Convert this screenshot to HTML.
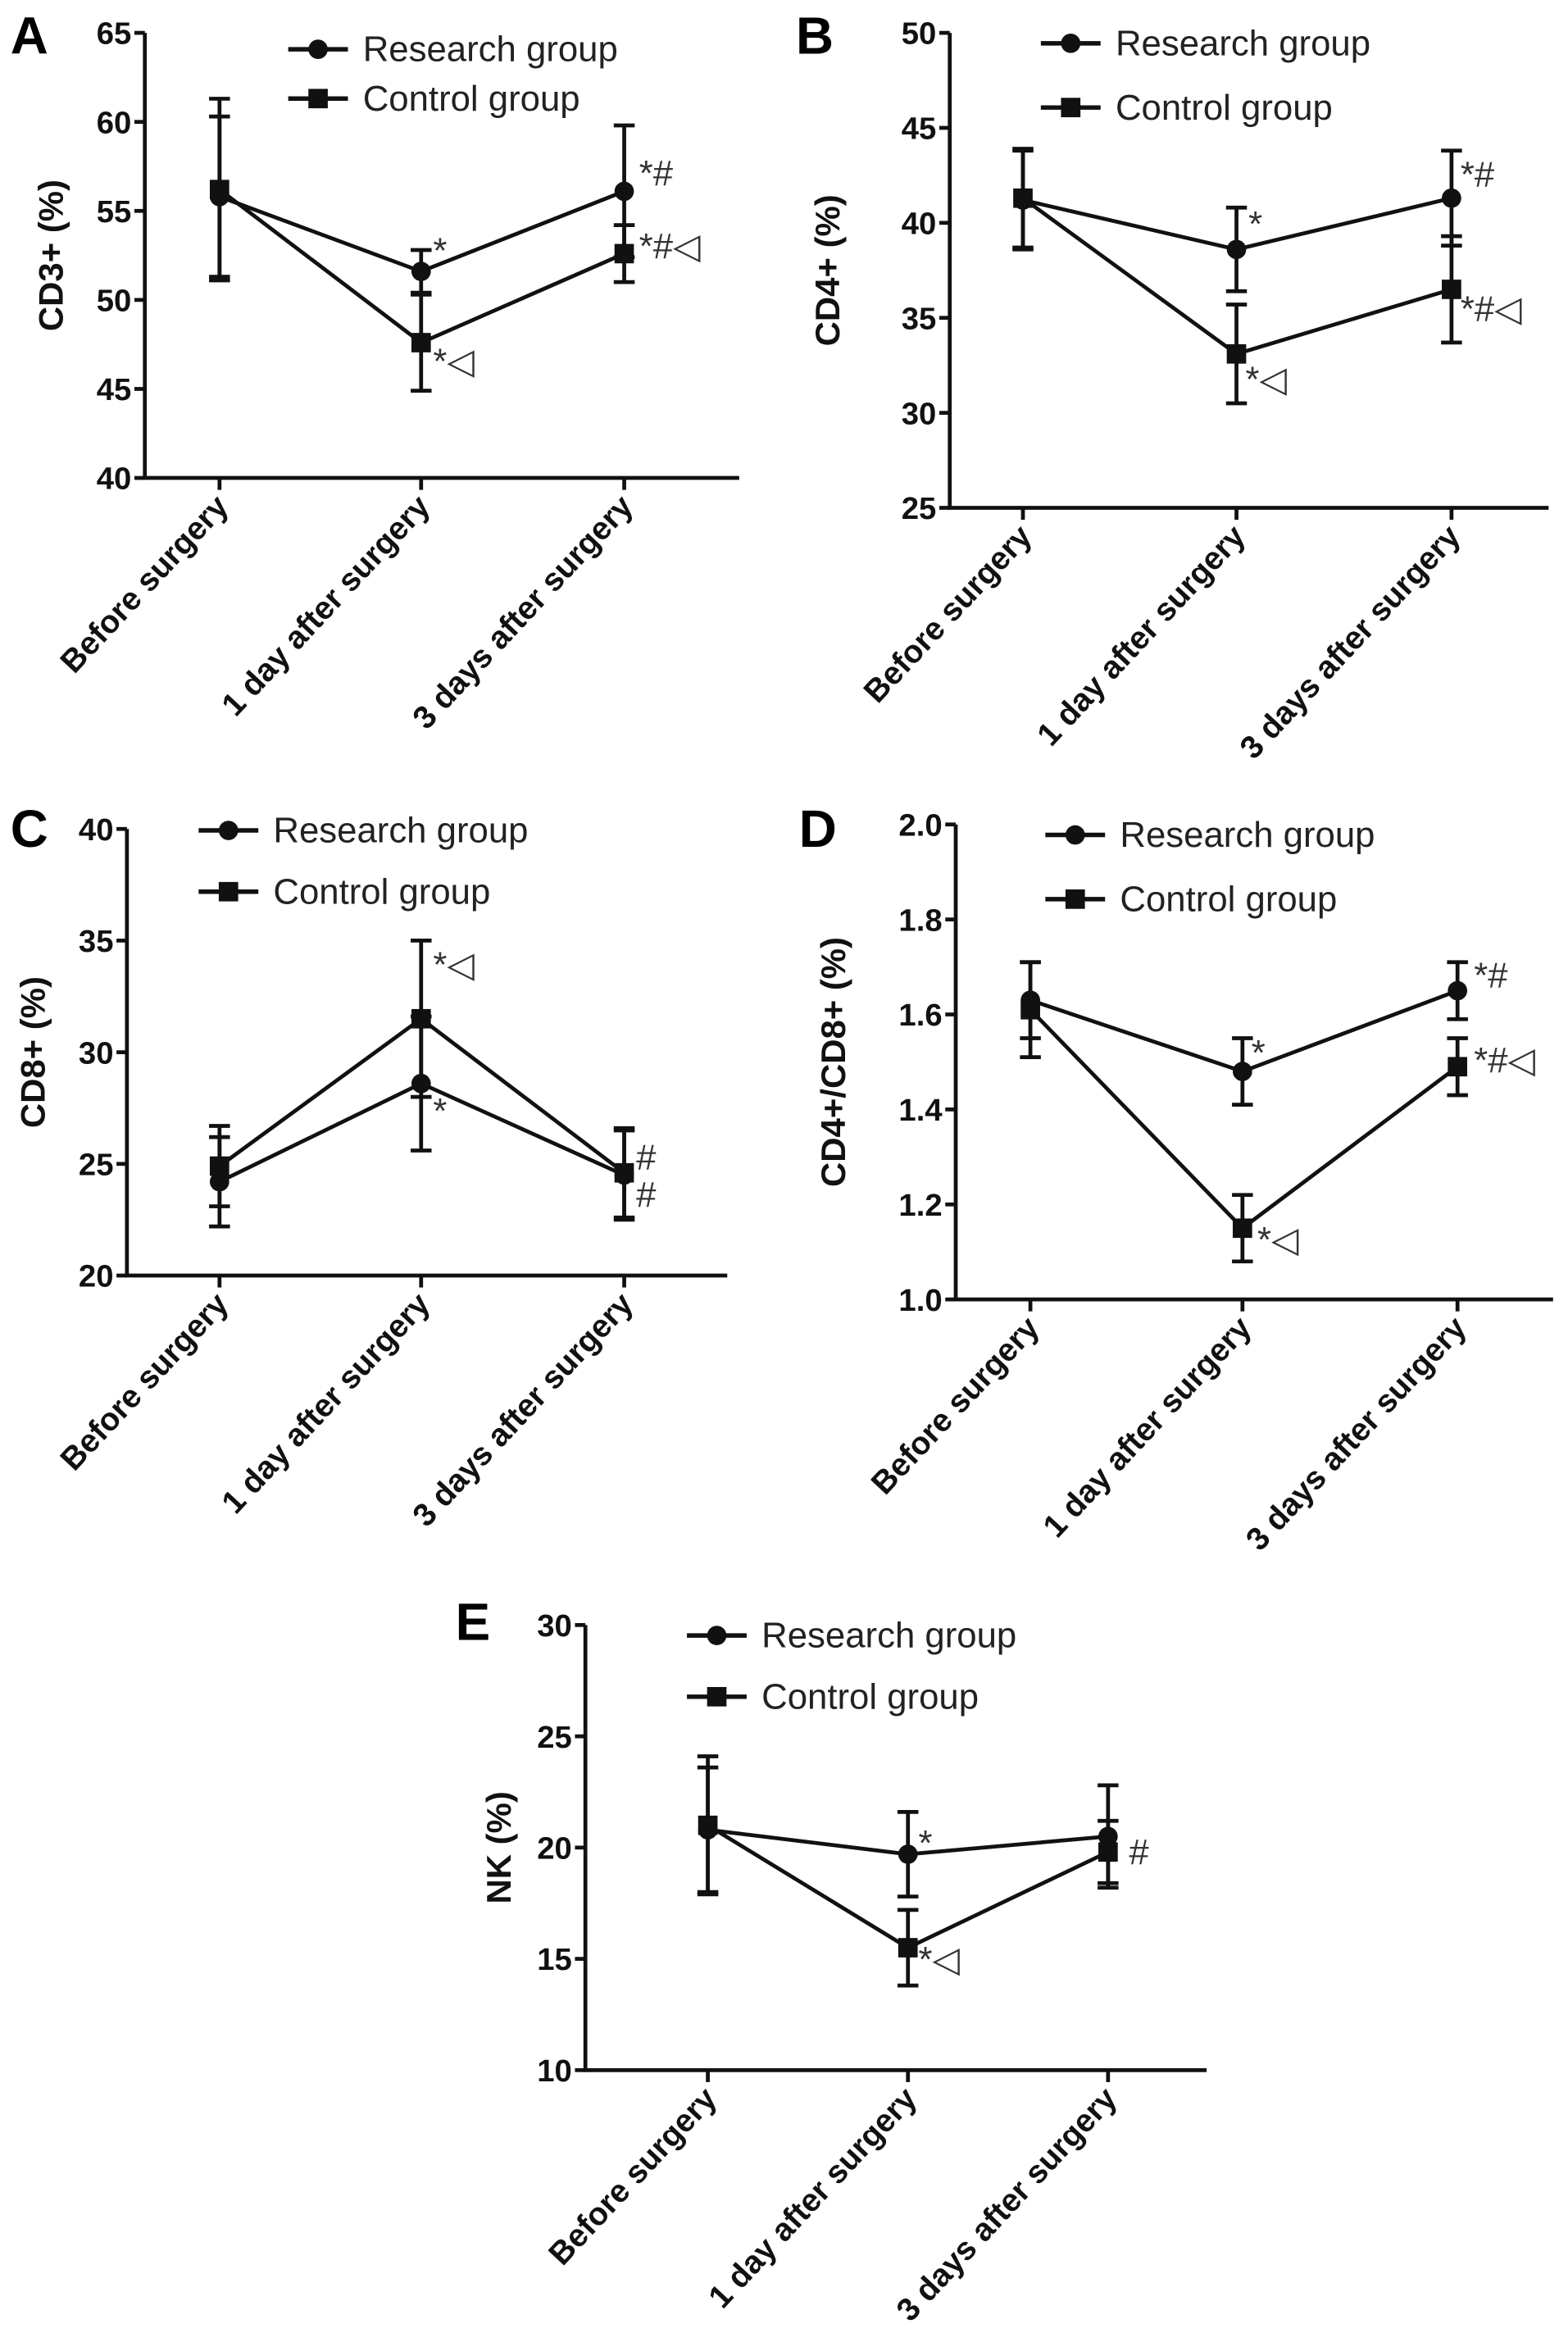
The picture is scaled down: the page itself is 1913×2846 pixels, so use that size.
<!DOCTYPE html>
<html><head><meta charset="utf-8"><style>
html,body{margin:0;padding:0;background:#fff}
svg{display:block}
text{font-family:"Liberation Sans",Arial,sans-serif}
</style></head><body>
<svg id="fig" width="1913" height="2846" viewBox="0 0 1050 1562" preserveAspectRatio="none" xmlns="http://www.w3.org/2000/svg"></svg>
<script>
const categories = ["Before surgery","1 day after surgery","3 days after surgery"];
// Panel A
const aResearch = [55.8, 51.6, 56.1];
const aResearchErr = [4.5, 1.2, 3.7];
const aControl = [56.2, 47.6, 52.6];
const aControlErr = [5.1, 2.7, 1.6];
const aTicks = [40,45,50,55,60,65];
// Panel B
const bResearch = [41.2, 38.6, 41.3];
const bResearchErr = [2.6, 2.2, 2.5];
const bControl = [41.3, 33.1, 36.5];
const bControlErr = [2.6, 2.6, 2.8];
const bTicks = [25,30,35,40,45,50];
// Panel C
const cResearch = [24.2, 28.6, 24.5];
const cResearchErr = [2.0, 3.0, 2.0];
const cControl = [24.9, 31.5, 24.6];
const cControlErr = [1.8, 3.5, 2.0];
const cTicks = [20,25,30,35,40];
// Panel D
const dResearch = [1.63, 1.48, 1.65];
const dResearchErr = [0.08, 0.07, 0.06];
const dControl = [1.61, 1.15, 1.49];
const dControlErr = [0.10, 0.07, 0.06];
const dTicks = [1.0,1.2,1.4,1.6,1.8,2.0];
// Panel E
const eResearch = [20.8, 19.7, 20.5];
const eResearchErr = [2.8, 1.9, 2.3];
const eControl = [21.0, 15.5, 19.8];
const eControlErr = [3.1, 1.7, 1.4];
const eTicks = [10,15,20,25,30];

const NS="http://www.w3.org/2000/svg";
const svg=document.getElementById('fig');
function mk(tag,attrs,parent,txt){const e=document.createElementNS(NS,tag);for(const k in attrs)e.setAttribute(k,attrs[k]);if(txt!==undefined)e.textContent=txt;(parent||svg).appendChild(e);return e;}

function panel(p){
  const g=mk('g',{});
  
  
  const ymin=p.ticks[0],ymax=p.ticks[p.ticks.length-1];
  const Y=v=>p.yb+(v-ymin)/(ymax-ymin)*(p.yt-p.yb);
  const X=i=>p.cx[i];
  const L=mk('text',{x:p.lx,y:p.ly,'font-size':35,'font-weight':'bold'},g,p.id);
  
  const ax=mk('path',{d:`M${p.x0},${p.yt}V${p.yb}H${p.xe}`,stroke:'#111','stroke-width':2.6,fill:'none'},g);
  
  p.ticks.forEach(t=>{
    mk('line',{x1:p.x0-7,x2:p.x0,y1:Y(t),y2:Y(t),stroke:'#111','stroke-width':2.6},g);
    const tl=mk('text',{x:p.x0-9,y:Y(t)+7.5,'font-size':21,'font-weight':'bold','text-anchor':'end',fill:'#111'},g,p.fmt(t));
    
  });
  categories.forEach((c,i)=>{
    mk('line',{x1:X(i),x2:X(i),y1:p.yb,y2:p.yb+8,stroke:'#111','stroke-width':2.6},g);
    const tl=mk('text',{x:X(i)+7,y:p.yb+20,'font-size':21.5,'font-weight':'bold','text-anchor':'end',fill:'#111',transform:`rotate(-47 ${X(i)+7} ${p.yb+20})`},g,c);
    
  });
  const yl=mk('text',{x:p.ylx,y:(p.yt+p.yb)/2,'font-size':23,'font-weight':'bold','text-anchor':'middle',fill:'#111',transform:`rotate(-90 ${p.ylx} ${(p.yt+p.yb)/2})`},g,p.ylabel);
  
  [[p.res,p.resE,'circle','research'],[p.con,p.conE,'square','control']].forEach(([vals,errs,shape,nm])=>{
    const sg=mk('g',{},g);
    
    mk('polyline',{points:vals.map((v,i)=>X(i)+','+Y(v)).join(' '),fill:'none',stroke:'#111','stroke-width':2.6},sg);
    vals.forEach((v,i)=>{
      const x=X(i);
      mk('path',{d:`M${x},${Y(v-errs[i])}V${Y(v+errs[i])}M${x-7},${Y(v-errs[i])}h14M${x-7},${Y(v+errs[i])}h14`,stroke:'#111','stroke-width':2.6,fill:'none'},sg);
      let m;
      if(shape==='circle') m=mk('circle',{cx:x,cy:Y(v),r:6.5,fill:'#111'},sg);
      else m=mk('rect',{x:x-6.5,y:Y(v)-6.5,width:13,height:13,fill:'#111'},sg);
      
    });
  });
  p.notes.forEach(n=>{
    const t=mk('text',{x:n[0],y:n[1],'font-size':24,fill:'#333'},g,n[2]);
    
  });
  [[p.legY[0],'Research group','circle'],[p.legY[1],'Control group','square']].forEach(([y,txt,shape])=>{
    const lg=mk('g',{},g);
    
    mk('line',{x1:p.legX,x2:p.legX+40,y1:y,y2:y,stroke:'#111','stroke-width':3},lg);
    if(shape==='circle') mk('circle',{cx:p.legX+20,cy:y,r:6.5,fill:'#111'},lg);
    else mk('rect',{x:p.legX+13.5,y:y-6.5,width:13,height:13,fill:'#111'},lg);
    mk('text',{x:p.legX+50,y:y+8,'font-size':24,fill:'#222'},lg,txt);
  });
}
const f0=t=>String(t), f1=t=>t.toFixed(1);
panel({id:'A',lx:7,ly:36,x0:97,yt:22,yb:320,xe:495,cx:[147,282,418],ticks:aTicks,fmt:f0,ylx:42,ylabel:'CD3+ (%)',
  res:aResearch,resE:aResearchErr,con:aControl,conE:aControlErr,legX:193,legY:[33,66],
  notes:[[290,176,'*'],[290,250,'*◁'],[428,124,'*#'],[428,173,'*#◁']]});
panel({id:'B',lx:533,ly:36,x0:636,yt:22,yb:340,xe:1037,cx:[685,828,972],ticks:bTicks,fmt:f0,ylx:562,ylabel:'CD4+ (%)',
  res:bResearch,resE:bResearchErr,con:bControl,conE:bControlErr,legX:697,legY:[29,72],
  notes:[[836,158,'*'],[834,262,'*◁'],[978,125,'*#'],[978,215,'*#◁']]});
panel({id:'C',lx:7,ly:567,x0:85,yt:555,yb:854,xe:487,cx:[147,282,418],ticks:cTicks,fmt:f0,ylx:30,ylabel:'CD8+ (%)',
  res:cResearch,resE:cResearchErr,con:cControl,conE:cControlErr,legX:133,legY:[556,597],
  notes:[[290,654,'*◁'],[290,752,'*'],[426,783,'#'],[426,808,'#']]});
panel({id:'D',lx:535,ly:567,x0:640,yt:552,yb:870,xe:1040,cx:[690,832,976],ticks:dTicks,fmt:f1,ylx:566,ylabel:'CD4+/CD8+ (%)',
  res:dResearch,resE:dResearchErr,con:dControl,conE:dControlErr,legX:700,legY:[559,602],
  notes:[[838,713,'*'],[842,838,'*◁'],[987,661,'*#'],[987,718,'*#◁']]});
panel({id:'E',lx:305,ly:1098,x0:392,yt:1088,yb:1386,xe:808,cx:[474,608,742],ticks:eTicks,fmt:f0,ylx:342,ylabel:'NK (%)',
  res:eResearch,resE:eResearchErr,con:eControl,conE:eControlErr,legX:460,legY:[1095,1136],
  notes:[[615,1242,'*'],[615,1320,'*◁'],[756,1248,'#']]});
</script>
</body></html>
